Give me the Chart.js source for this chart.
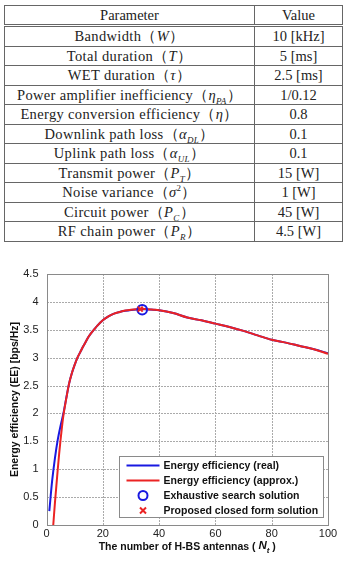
<!DOCTYPE html>
<html>
<head>
<meta charset="utf-8">
<script src="https://cdn.jsdelivr.net/npm/chart.js@4.4.1/dist/chart.umd.min.js"></script>
<style>
  html, body { margin: 0; padding: 0; background: #fff; width: 346px; height: 574px; overflow: hidden; }
  #params { position: absolute; left: 4px; top: 5px; width: 339px; border-collapse: collapse;
    font-family: "Liberation Serif", "DejaVu Serif", serif; font-size: 14.5px; color: #222; }
  #params td, #params th { border: 1px solid #666; height: 18.5px; padding: 0; text-align: center;
    font-weight: normal; line-height: 18px; white-space: nowrap; }
  #params td.n { letter-spacing: 0.35px; }
  #params th { border-bottom: 3px double #666; height: 17px; }
  #params .v { width: 87px; }
  #params sub { font-size: 9px; line-height: 0; }
  #params sup { font-size: 9px; line-height: 0; }
  #wrap { position: absolute; left: 0; top: 255px; width: 346px; height: 319px; }
</style>
</head>
<body>
<table id="params"></table>
<div id="wrap"><canvas id="myChart"></canvas></div>
<script>
// table contents
const paramNames = [
  'Bandwidth（<i>W</i>）',
  'Total duration（<i>T</i>）',
  'WET duration（<i>τ</i>）',
  'Power amplifier inefficiency（<i>η<sub>PA</sub></i>）',
  'Energy conversion efficiency（<i>η</i>）',
  'Downlink path loss（<i>α<sub>DL</sub></i>）',
  'Uplink path loss（<i>α<sub>UL</sub></i>）',
  'Transmit power（<i>P<sub>T</sub></i>）',
  'Noise variance（<i>σ</i><sup>2</sup>）',
  'Circuit power（<i>P<sub>C</sub></i>）',
  'RF chain power（<i>P<sub>R</sub></i>）'
]
const paramValues = ['10 [kHz]', '5 [ms]', '2.5 [ms]', '1/0.12', '0.8', '0.1', '0.1', '15 [W]', '1 [W]', '45 [W]', '4.5 [W]']

// chart data
const ntReal = [1, 2, 3, 4, 5, 6, 7, 8, 9, 10, 11, 12, 13, 14, 15, 16, 17, 18, 20, 22, 24, 26, 28, 30, 32, 34, 36, 38, 40, 45, 50, 55, 60, 65, 70, 75, 80, 85, 90, 95, 100]
const eeReal = [0.25, 0.79, 1.2, 1.53, 1.78, 2.0, 2.27, 2.53, 2.72, 2.87, 3.0, 3.1, 3.2, 3.29, 3.38, 3.45, 3.51, 3.57, 3.67, 3.74, 3.79, 3.82, 3.84, 3.855, 3.865, 3.87, 3.865, 3.86, 3.85, 3.8, 3.72, 3.67, 3.61, 3.55, 3.48, 3.4, 3.32, 3.27, 3.21, 3.15, 3.08]
const ntApprox = [2.4, 3, 3.5, 4, 4.5, 5, 5.5, 6, 7, 8, 9, 10, 11, 12, 13, 14, 15, 16, 17, 18, 20, 22, 24, 26, 28, 30, 32, 34, 36, 38, 40, 45, 50, 55, 60, 65, 70, 75, 80, 85, 90, 95, 100]
const eeApprox = [0, 0.4, 0.7, 1.0, 1.28, 1.53, 1.76, 1.96, 2.26, 2.53, 2.72, 2.87, 3.0, 3.1, 3.2, 3.29, 3.38, 3.45, 3.51, 3.57, 3.67, 3.74, 3.79, 3.82, 3.845, 3.86, 3.87, 3.875, 3.87, 3.86, 3.85, 3.8, 3.72, 3.67, 3.61, 3.55, 3.48, 3.4, 3.32, 3.27, 3.21, 3.15, 3.07]
const ntSearch = [34]
const eeSearch = [3.86]
const ntClosed = [33.3]
const eeClosed = [3.87]
const seriesLabels = ['Energy efficiency (real)', 'Energy efficiency (approx.)', 'Exhaustive search solution', 'Proposed closed form solution']
const xTicks = [0, 20, 40, 60, 80, 100]
const yTicks = [0, 0.5, 1, 1.5, 2, 2.5, 3, 3.5, 4, 4.5]

const table = document.getElementById('params')
let rows = '<tr><th>Parameter</th><th class="v">Value</th></tr>'
paramNames.forEach((name, i) => {
    rows += `<tr><td class="n">${name}</td><td class="v">${paramValues[i]}</td></tr>`
})
table.innerHTML = rows

const toPoints = (xs, ys) => xs.map((x, i) => ({ x: x, y: ys[i] }))

const blue = 'rgb(25, 25, 225)'
const red = 'rgb(235, 35, 35)'
const sans = '"Liberation Sans", Arial, sans-serif'

// dotted grid (short pixel runs) + full box around the axes, matlab style
const boxPlugin = {
    id: 'box',
    beforeDatasetsDraw(chart) {
        const a = chart.chartArea
        const ctx = chart.ctx
        const xs = chart.scales.x, ys = chart.scales.y
        const top = Math.round(a.top), bottom = Math.round(a.bottom)
        const left = Math.round(a.left), right = Math.round(a.right)
        ctx.save()
        ctx.fillStyle = '#aaaaaa'
        xTicks.forEach(v => {
            const px = Math.round(xs.getPixelForValue(v))
            for (let y = top; y < bottom; y += 3) ctx.fillRect(px, y, 1, 2)
        })
        yTicks.forEach(v => {
            const py = Math.round(ys.getPixelForValue(v))
            for (let x = left; x < right; x += 3) ctx.fillRect(x, py, 2, 1)
        })
        ctx.strokeStyle = '#8a8a8a'
        ctx.lineWidth = 1
        ctx.strokeRect(left + 0.5, top + 0.5, right - left, bottom - top)
        ctx.restore()
    }
}

// legend box inside the plot, bottom right
const legendPlugin = {
    id: 'innerLegend',
    afterDatasetsDraw(chart) {
        const a = chart.chartArea
        const ctx = chart.ctx
        const w = 204, h = 61
        const x0 = Math.round(a.right - 5 - w) + 0.5
        const y0 = Math.round(a.bottom - 8 - h) + 0.5
        ctx.save()
        ctx.fillStyle = '#fff'
        ctx.fillRect(x0, y0, w, h)
        ctx.strokeStyle = '#8a8a8a'
        ctx.lineWidth = 1
        ctx.strokeRect(x0, y0, w, h)
        ctx.font = 'bold 10.5px ' + sans
        ctx.textBaseline = 'middle'
        chart.data.datasets.forEach((ds, i) => {
            const y = y0 + 9 + i * 15
            ctx.strokeStyle = ds.borderColor
            ctx.lineWidth = 2
            if (i < 2) {
                ctx.beginPath()
                ctx.moveTo(x0 + 7, y)
                ctx.lineTo(x0 + 40, y)
                ctx.stroke()
            } else if (ds.pointStyle === 'circle') {
                ctx.beginPath()
                ctx.arc(x0 + 23.5, y, 4.5, 0, Math.PI * 2)
                ctx.stroke()
            } else {
                ctx.beginPath()
                ctx.moveTo(x0 + 20.5, y - 3); ctx.lineTo(x0 + 26.5, y + 3)
                ctx.moveTo(x0 + 26.5, y - 3); ctx.lineTo(x0 + 20.5, y + 3)
                ctx.stroke()
            }
            ctx.fillStyle = '#111'
            ctx.fillText(ds.label, x0 + 44, y + 0.5)
        })
        ctx.restore()
    }
}

// x axis title with italic N and subscript t
const xTitlePlugin = {
    id: 'xTitle',
    afterDraw(chart) {
        const a = chart.chartArea
        const ctx = chart.ctx
        const y = a.bottom + 22
        const parts = [
            { t: 'The number of H-BS antennas ( ', f: 'bold 10.5px ' + sans, dy: 0 },
            { t: 'N', f: 'italic bold 11.5px ' + sans, dy: -1 },
            { t: 't', f: 'italic bold 8px ' + sans, dy: 4 },
            { t: ' )', f: 'bold 10.5px ' + sans, dy: 0 }
        ]
        let total = 0
        parts.forEach(p => { ctx.font = p.f; p.w = ctx.measureText(p.t).width; total += p.w })
        let x = (a.left + a.right) / 2 - total / 2
        ctx.save()
        ctx.fillStyle = '#111'
        ctx.textBaseline = 'middle'
        parts.forEach(p => {
            ctx.font = p.f
            ctx.fillText(p.t, x, y + p.dy)
            x += p.w
        })
        ctx.restore()
    }
}

var ctx = document.getElementById('myChart').getContext('2d')
var chart = new Chart(ctx, {
    type: 'scatter',
    data: {
        datasets: [{
            label: seriesLabels[0],
            data: toPoints(ntReal, eeReal),
            showLine: true,
            borderColor: blue,
            borderWidth: 2,
            pointRadius: 0,
            cubicInterpolationMode: 'monotone',
            order: 3
        },
        {
            label: seriesLabels[1],
            data: toPoints(ntApprox, eeApprox),
            showLine: true,
            borderColor: red,
            borderWidth: 2,
            pointRadius: 0,
            cubicInterpolationMode: 'monotone',
            order: 2
        },
        {
            label: seriesLabels[2],
            data: toPoints(ntSearch, eeSearch),
            pointStyle: 'circle',
            pointRadius: 4.8,
            borderColor: blue,
            backgroundColor: 'rgba(0,0,0,0)',
            borderWidth: 2,
            order: 1
        },
        {
            label: seriesLabels[3],
            data: toPoints(ntClosed, eeClosed),
            pointStyle: 'crossRot',
            pointRadius: 3.5,
            borderColor: red,
            borderWidth: 2,
            order: 0
        }
        ]
    },
    options: {
        responsive: true,
        maintainAspectRatio: false,
        animation: false,
        devicePixelRatio: 1,
        layout: { padding: { top: 19, right: 18, bottom: 0, left: 0 } },
        plugins: {
            legend: { display: false },
            tooltip: { enabled: false }
        },
        scales: {
            x: {
                type: 'linear',
                min: 0,
                max: 100,
                afterBuildTicks: s => { s.ticks = xTicks.map(v => ({ value: v })) },
                afterFit: s => { s.height = 49 },
                ticks: { color: '#222', font: { family: sans, size: 11 }, padding: 2, maxRotation: 0 },
                grid: { display: false, drawTicks: false },
                border: { display: false }
            },
            y: {
                min: 0,
                max: 4.5,
                afterBuildTicks: s => { s.ticks = yTicks.map(v => ({ value: v })) },
                afterFit: s => { s.width = 46.5 },
                ticks: { color: '#222', font: { family: sans, size: 11 }, padding: 8, callback: v => String(v) },
                grid: { display: false, drawTicks: false },
                border: { display: false },
                title: {
                    display: true,
                    text: 'Energy efficiency (EE) [bps/Hz]',
                    color: '#111',
                    font: { family: sans, size: 10.5, weight: 'bold' },
                    padding: { top: 9, bottom: 0 }
                }
            }
        }
    },
    plugins: [boxPlugin, legendPlugin, xTitlePlugin]
})
</script>
</body>
</html>
